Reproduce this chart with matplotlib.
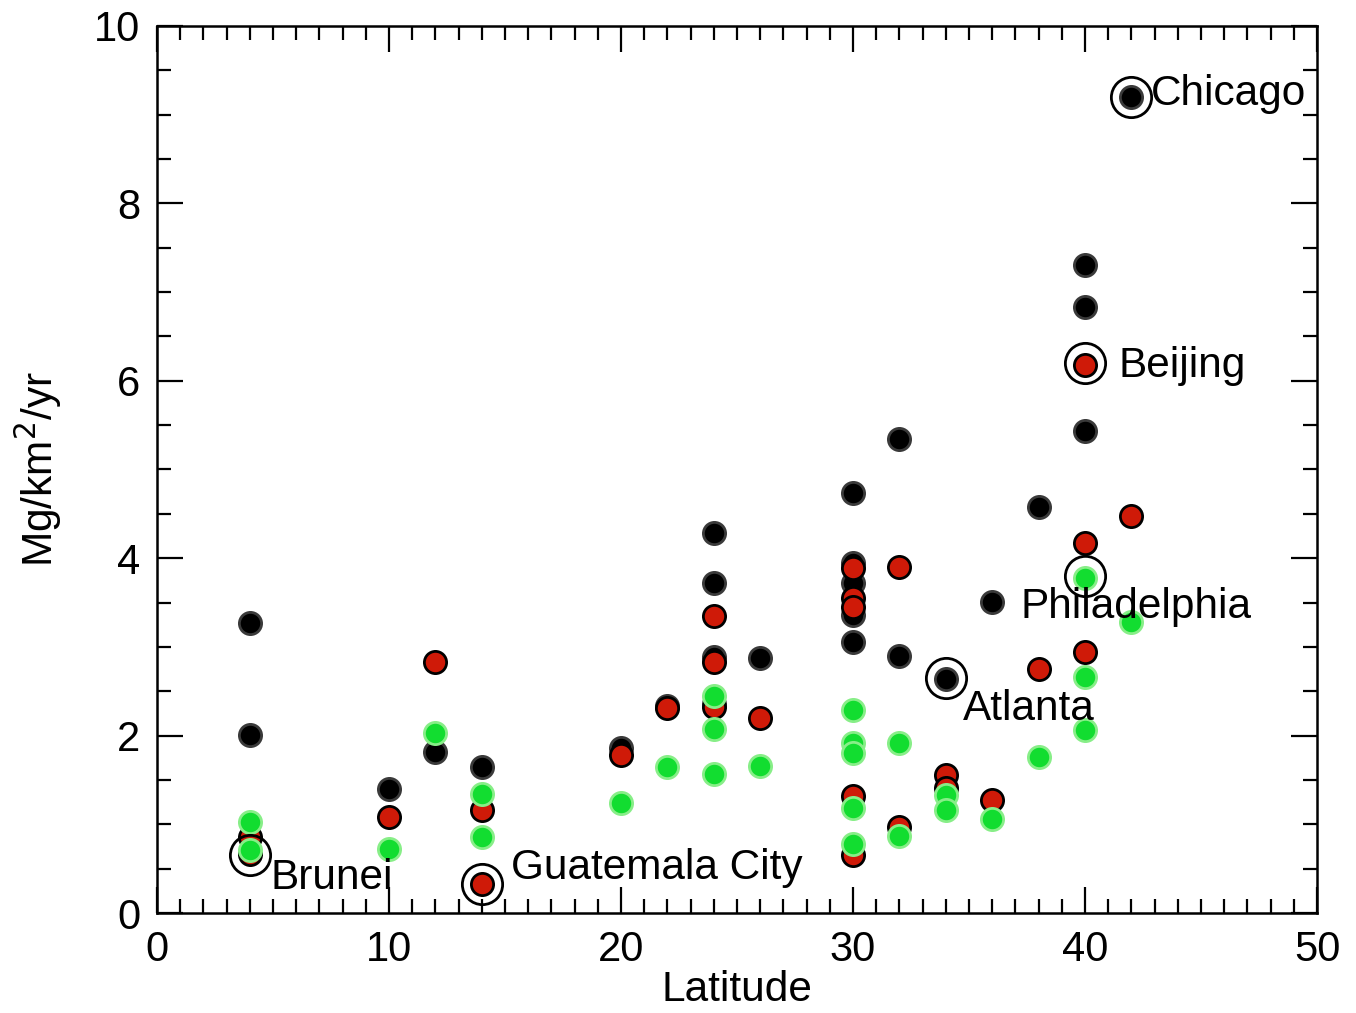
import numpy as np
import matplotlib
matplotlib.use("Agg")
import matplotlib.pyplot as plt
from matplotlib.ticker import MultipleLocator

plt.rcParams['font.family'] = ['Liberation Sans', 'DejaVu Sans']

# black series
black_lat = [4, 4, 10, 12, 14, 20, 22, 24, 24, 24, 24, 26, 30, 30, 30, 30, 30, 32, 32, 34, 36, 38, 40, 40, 40, 42]
black_val = [3.27, 2.01, 1.40, 1.81, 1.65, 1.86, 2.33, 4.28, 3.72, 2.89, 2.36, 2.88, 4.74, 3.95, 3.72, 3.36, 3.06,
             5.34, 2.90, 2.64, 3.51, 4.58, 7.31, 6.83, 5.43, 9.20]
# red series
red_lat = [4, 4, 10, 12, 14, 14, 20, 22, 24, 24, 24, 26, 30, 30, 30, 30, 30, 32, 32, 34, 34, 36, 38, 40, 40, 40, 42]
red_val = [0.86, 0.67, 1.08, 2.83, 1.16, 0.33, 1.78, 2.31, 3.35, 2.83, 2.32, 2.20, 3.89, 3.55, 3.45, 1.32, 0.65,
           3.90, 0.97, 1.56, 1.41, 1.27, 2.75, 6.18, 4.17, 2.94, 4.48]
# green series
green_lat = [4, 4, 10, 12, 14, 14, 20, 22, 24, 24, 24, 26, 30, 30, 30, 30, 30, 32, 32, 34, 34, 36, 38, 40, 40, 40, 42]
green_val = [1.03, 0.71, 0.72, 2.03, 1.34, 0.86, 1.24, 1.65, 2.45, 2.07, 1.57, 1.66, 2.29, 1.92, 1.80, 1.18, 0.78,
             1.92, 0.87, 1.33, 1.16, 1.06, 1.76, 3.78, 2.66, 2.06, 3.28]

# labelled cities
city_names = ["Chicago", "Beijing", "Philadelphia", "Atlanta", "Brunei", "Guatemala City"]
city_lat = [42, 40, 40, 34, 4, 14]
city_val = [9.20, 6.20, 3.80, 2.65, 0.65, 0.33]
label_offset = [(19, 3), (34, -3), (-64, -31), (17, -31), (21, -23), (29, 16)]

fig = plt.figure(figsize=(13.56, 10.13), dpi=100)
ax = fig.add_axes([157 / 1356, 1 - 913 / 1013, (1317 - 157) / 1356, (913 - 26) / 1013])

ax.plot(black_lat, black_val, 'o', ms=16, mfc='black', mec='#3a3a3a', mew=2, zorder=3)
ax.plot(red_lat, red_val, 'o', ms=16, mfc='#cf1a08', mec='black', mew=2, zorder=4)
ax.plot(green_lat, green_val, 'o', ms=16, mfc='#12dd30', mec='#88ee88', mew=2, zorder=5)

ax.plot(city_lat, city_val, 'o', ms=29, mfc='none', mec='black', mew=2, zorder=6)
for name, x, y, off in zip(city_names, city_lat, city_val, label_offset):
    ax.annotate(name, (x, y), xytext=off, textcoords='offset pixels',
                ha='left', va='center', fontsize=30.5, zorder=7)

ax.set_xlim(0, 50)
ax.set_ylim(0, 10)
ax.xaxis.set_major_locator(MultipleLocator(10))
ax.xaxis.set_minor_locator(MultipleLocator(1))
ax.yaxis.set_major_locator(MultipleLocator(2))
ax.yaxis.set_minor_locator(MultipleLocator(0.5))
ax.tick_params(which='both', direction='in', top=True, right=True, width=1.6, labelsize=30)
ax.tick_params(which='major', length=19, pad=12)
ax.tick_params(which='minor', length=10)
for s in ax.spines.values():
    s.set_linewidth(1.8)

ax.set_xlabel("Latitude", fontsize=30.5, labelpad=0)
ax.set_ylabel("Mg/km$^2$/yr", fontsize=30.5, labelpad=22)

fig.savefig("out.png", dpi=100)
